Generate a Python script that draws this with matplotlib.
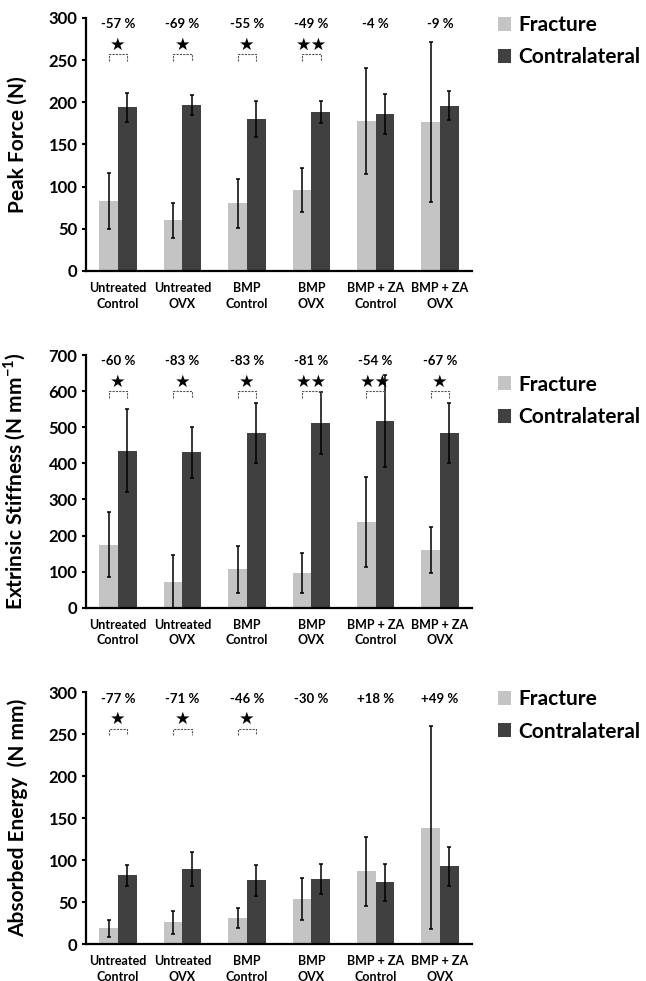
import matplotlib.pyplot as plt
import numpy as np

plt.rcParams['font.family'] = ['Lato', 'DejaVu Sans']
plt.rcParams['mathtext.fontset'] = 'custom'
plt.rcParams['mathtext.rm'] = 'Lato:bold'
plt.rcParams['mathtext.bf'] = 'Lato:bold'

groups = ['Untreated\nControl', 'Untreated\nOVX', 'BMP\nControl', 'BMP\nOVX',
          'BMP + ZA\nControl', 'BMP + ZA\nOVX']

# Peak force (N)
force_frac = [83, 60, 80, 96, 178, 177]
force_frac_err = [33, 21, 29, 26, 63, 95]
force_contra = [194, 197, 180, 189, 186, 196]
force_contra_err = [17, 12, 21, 13, 24, 17]
force_pct = ['-57 %', '-69 %', '-55 %', '-49 %', '-4 %', '-9 %']
force_stars = ['★', '★', '★', '★★', '', '']

# Extrinsic stiffness (N/mm)
stiff_frac = [175, 72, 107, 96, 238, 160]
stiff_frac_err = [90, 73, 65, 55, 124, 63]
stiff_contra = [435, 430, 484, 512, 518, 484]
stiff_contra_err = [115, 72, 82, 85, 127, 83]
stiff_pct = ['-60 %', '-83 %', '-83 %', '-81 %', '-54 %', '-67 %']
stiff_stars = ['★', '★', '★', '★★', '★★', '★']

# Absorbed energy (N mm)
energy_frac = [19, 26, 31, 54, 87, 139]
energy_frac_err = [10, 14, 12, 25, 41, 121]
energy_contra = [82, 90, 76, 78, 74, 93]
energy_contra_err = [12, 20, 18, 18, 22, 23]
energy_pct = ['-77 %', '-71 %', '-46 %', '-30 %', '+18 %', '+49 %']
energy_stars = ['★', '★', '★', '', '', '']

panels = [
    ('Peak Force (N)', 300, 50, force_frac, force_frac_err, force_contra,
     force_contra_err, force_pct, force_stars, [0.133, 0.7238, 0.598, 0.2579], 1.045),
    ('Extrinsic Stiffness (N mm$^{-1}$)', 700, 100, stiff_frac, stiff_frac_err,
     stiff_contra, stiff_contra_err, stiff_pct, stiff_stars, [0.133, 0.3805, 0.598, 0.2576], 0.955),
    ('Absorbed Energy  (N mm)', 300, 50, energy_frac, energy_frac_err, energy_contra,
     energy_contra_err, energy_pct, energy_stars, [0.133, 0.0374, 0.598, 0.2569], 1.046),
]

light = '#c4c4c4'
dark = '#404040'
w = 0.29

fig = plt.figure(figsize=(6.46, 9.81), dpi=100)

for label, ymax, step, frac, frac_err, contra, contra_err, pct, stars, rect, leg_y in panels:
    ax = fig.add_axes(rect)
    x = np.arange(len(groups))
    b1 = ax.bar(x - w / 2, frac, w, color=light, label='Fracture')
    b2 = ax.bar(x + w / 2, contra, w, color=dark, label='Contralateral')
    ax.errorbar(x - w / 2, frac, yerr=frac_err, fmt='none', ecolor='black',
                elinewidth=1.1, capsize=1.5, capthick=1.1)
    ax.errorbar(x + w / 2, contra, yerr=contra_err, fmt='none', ecolor='black',
                elinewidth=1.1, capsize=1.5, capthick=1.1)

    ax.set_xlim(-0.5, 5.5)
    ax.set_ylim(0, ymax)
    ax.set_yticks(np.arange(0, ymax + 1, step))
    ax.tick_params(axis='y', labelsize=12, length=3, width=1.5, direction='out', pad=3)
    for t in ax.get_yticklabels():
        t.set_fontweight('bold')
    ax.set_xticks(x)
    ax.set_xticklabels(groups, fontsize=9, fontweight='bold', linespacing=1.35)
    ax.tick_params(axis='x', length=0, pad=8)
    for s in ['top', 'right']:
        ax.spines[s].set_visible(False)
    ax.spines['left'].set_linewidth(1.6)
    ax.spines['bottom'].set_linewidth(1.6)
    ax.set_ylabel(label, fontsize=15, fontweight='bold')
    ax.yaxis.set_label_coords(-0.15, 0.5)

    # percent change + significance brackets
    for i in range(len(groups)):
        ax.text(x[i], ymax * 0.975, pct[i], ha='center', va='center', fontsize=9.5,
                fontweight='bold')
        if stars[i]:
            ax.text(x[i], ymax * 0.893, stars[i], ha='center', va='center',
                    fontsize=12.5, family=['DejaVu Sans'], color='black')
            ytop = ymax * 0.856
            ybot = ymax * 0.830
            ax.plot([x[i] - w / 2, x[i] - w / 2, x[i] + w / 2, x[i] + w / 2],
                    [ybot, ytop, ytop, ybot], color='#555555', lw=0.8,
                    linestyle=(0, (2, 1)))

    leg = ax.legend(handles=[b1, b2], loc='upper left', bbox_to_anchor=(1.044, leg_y),
                    frameon=False, fontsize=15, handlelength=0.65, handleheight=0.65,
                    handletextpad=0.35, labelspacing=0.6, borderaxespad=0)
    for t in leg.get_texts():
        t.set_fontweight('bold')

fig.savefig('out.png', dpi=100)
